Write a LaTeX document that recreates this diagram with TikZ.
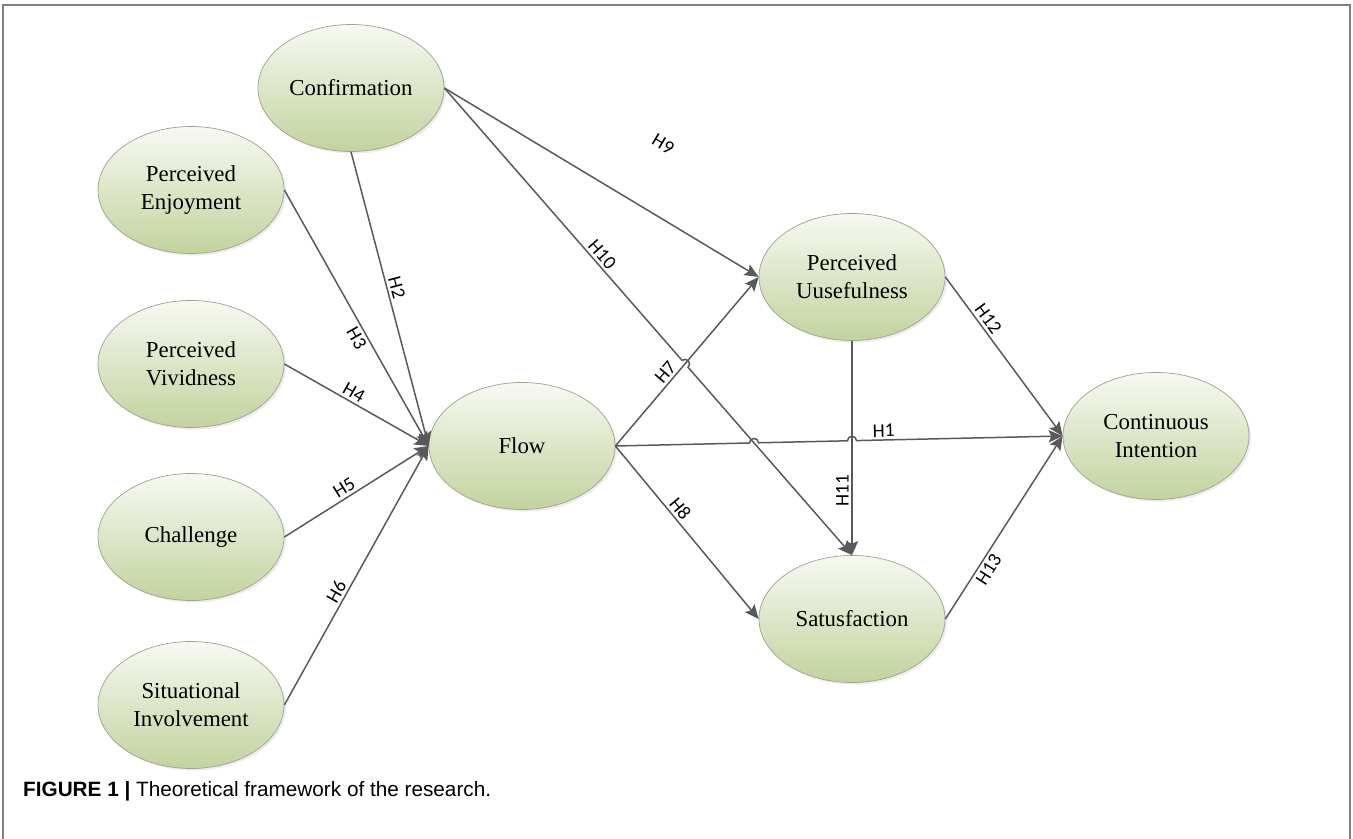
\documentclass[tikz,border=0pt]{standalone}
\usepackage{fontspec}
\setmainfont{Liberation Serif}
\newfontfamily\lblfont{Carlito}
\newfontfamily\capfont{Liberation Sans}
\usetikzlibrary{shapes.geometric,arrows.meta,calc,intersections,shadows,positioning}
\definecolor{linegray}{HTML}{595959}
\definecolor{rimgray}{HTML}{9CA38C}
\definecolor{topgreen}{HTML}{F7F9F2}
\definecolor{botgreen}{HTML}{C2D39E}

\begin{document}
\begin{tikzpicture}[
  construct/.style={ellipse,draw=rimgray,line width=0.4pt,top color=topgreen,bottom color=botgreen,
    minimum width=3.72cm,minimum height=2.54cm,inner sep=0pt,align=center,
    font=\fontsize{13}{16}\selectfont,drop shadow={opacity=0.15,shadow xshift=1.2pt,shadow yshift=-1.2pt}},
  conn/.style={draw=linegray,line width=0.85pt,-{Stealth[length=8pt,width=7pt,inset=1.5pt]}},
  hyp/.style={font=\lblfont\fontsize{11}{13}\selectfont,text=black,inner sep=1.5pt},
  frame/.style={draw=gray,line width=0.9pt}]
\useasboundingbox (0,0) rectangle (27.06,16.78);
\draw[frame] (0.06,0) -- (0.06,16.68) -- (27.0,16.68) -- (27.0,0);
\node[construct] (conf) at (7.02,15.02) {Confirmation};
\node[construct] (enj) at (3.82,12.98) {Perceived\\Enjoyment};
\node[construct] (viv) at (3.82,9.50) {Perceived\\Vividness};
\node[construct] (cha) at (3.82,6.04) {Challenge};
\node[construct] (sit) at (3.82,2.68) {Situational\\Involvement};
\node[construct] (flow) at (10.44,7.86) {Flow};
\node[construct] (pu) at (17.04,11.24) {Perceived\\Uusefulness};
\node[construct] (sat) at (17.04,4.40) {Satusfaction};
\node[construct] (ci) at (23.12,8.06) {Continuous\\Intention};
\draw[conn] (conf.south) -- node[hyp,sloped,above,pos=0.47] {H2} (flow.west);
\draw[conn] (enj.east) -- node[hyp,sloped,below,pos=0.56] {H3} (flow.west);
\draw[conn] (viv.east) -- node[hyp,sloped,above,pos=0.45] {H4} (flow.west);
\draw[conn] (cha.east) -- node[hyp,sloped,above,pos=0.45] {H5} (flow.west);
\draw[conn] (sit.east) -- node[hyp,sloped,above,pos=0.42] {H6} (flow.west);
\draw[conn,name path=h7] (flow.east) -- node[hyp,sloped,above,pos=0.4] {H7} (pu.west);
\draw[conn] (flow.east) -- node[hyp,sloped,above,pos=0.4] {H8} (sat.west);
\draw[conn] (conf.east) -- node[hyp,sloped,above=1.1cm,pos=0.59] {H9} (pu.west);
\draw[conn,name path=h11] (pu.south) -- node[hyp,rotate=90,above,pos=0.7] {H11} (sat.north);
\draw[conn] (pu.east) -- node[hyp,sloped,above,pos=0.3] {H12} (ci.west);
\draw[conn] (sat.east) -- node[hyp,sloped,below,pos=0.3] {H13} (ci.west);
\path[name path=h10] (conf.east) -- node[hyp,sloped,above,pos=0.37] {H10} (sat.north);
\path[name path=h1] (flow.east) -- node[hyp,sloped,above,pos=0.6] {H1} (ci.west);
\path[name intersections={of=h10 and h7,by=j3}];
\path[name intersections={of=h1 and h10,by=j1}];
\path[name intersections={of=h1 and h11,by=j2}];
\draw[conn] (conf.east) -- ($(j3)!0.09cm!(conf.east)$) arc[start angle=131.1,end angle=-48.9,radius=0.09cm] -- (sat.north);
\draw[conn] (flow.east) -- ($(j1)!0.09cm!(flow.east)$) arc[start angle=181.3,end angle=1.3,radius=0.09cm]
  -- ($(j2)!0.09cm!(flow.east)$) arc[start angle=181.3,end angle=1.3,radius=0.09cm] -- (ci.west);
\node[anchor=base west,font=\capfont\fontsize{11.8}{14}\selectfont] (cap) at (0.34,0.84)
  {\textbf{FIGURE 1 |} Theoretical framework of the research.};
\end{tikzpicture}
\end{document}
